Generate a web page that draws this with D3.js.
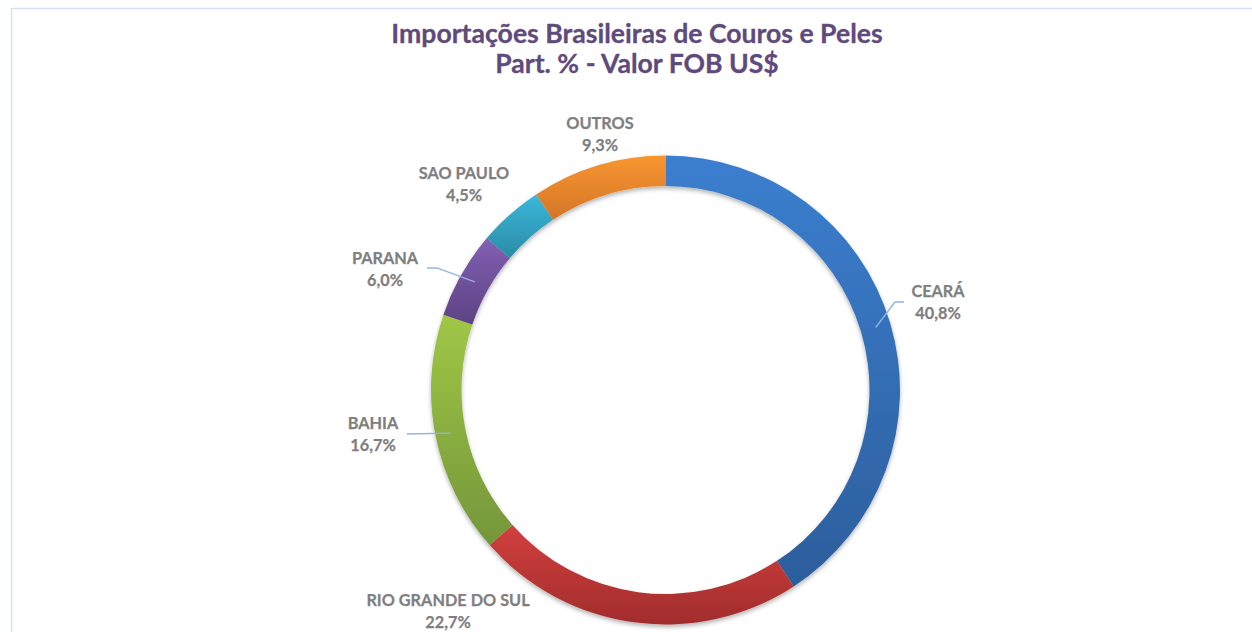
<!DOCTYPE html>
<html>
<head>
<meta charset="utf-8">
<script src="https://cdn.jsdelivr.net/npm/d3@7"></script>
<style>
  html, body { margin: 0; padding: 0; background: #fff; }
  svg { display: block; }
</style>
</head>
<body>
<svg id="drawing_region"></svg>
<script>
// data
const categories = ['CEARÁ', 'RIO GRANDE DO SUL', 'BAHIA', 'PARANA', 'SAO PAULO', 'OUTROS'];
const shares = [40.8, 22.7, 16.7, 6.0, 4.5, 9.3];
const titleLines = ['Importações Brasileiras de Couros e Peles', 'Part. % - Valor FOB US$'];

// colours (top, bottom of each slice gradient)
const colorsTop = ['#3b7fcf', '#d2403e', '#a0c746', '#8160b3', '#3bb8da', '#f8962f'];
const colorsBottom = ['#2c5e9c', '#a12c2c', '#74963a', '#5d4282', '#2a8ba6', '#d4752a'];

// label layout: centre x, first baseline y, leader elbow points (null = no leader)
const labelLayout = [
  { x: 938, y: 297, leader: [[904, 302], [895, 302]] },
  { x: 448, y: 606, leader: null },
  { x: 373, y: 429, leader: [[407, 434]] },
  { x: 385, y: 264, leader: [[427, 268], [437, 268]] },
  { x: 464, y: 179, leader: null },
  { x: 600, y: 129, leader: null }
];

const width = 1252, height = 632;
const cx = 665.5, cy = 390, outerR = 234.5, innerR = 204;

const svg = d3.select('#drawing_region')
  .attr('width', width)
  .attr('height', height);

const defs = svg.append('defs');

categories.forEach((c, i) => {
  const g = defs.append('linearGradient')
    .attr('id', 'grad' + i)
    .attr('x1', 0).attr('y1', 0).attr('x2', 0).attr('y2', 1);
  g.append('stop').attr('offset', '0%').attr('stop-color', colorsTop[i]);
  g.append('stop').attr('offset', '100%').attr('stop-color', colorsBottom[i]);
});

const shadow = defs.append('filter')
  .attr('id', 'shadow')
  .attr('x', '-10%').attr('y', '-10%').attr('width', '120%').attr('height', '120%');
shadow.append('feDropShadow')
  .attr('dx', 0).attr('dy', 2.5).attr('stdDeviation', 2)
  .attr('flood-color', '#000').attr('flood-opacity', 0.3);

// chart border
svg.append('rect')
  .attr('x', 11.5).attr('y', 8.5)
  .attr('width', width + 20).attr('height', height + 20)
  .attr('fill', 'none')
  .attr('stroke', '#d5e1f2')
  .attr('stroke-width', 1.5);

// title
svg.append('text')
  .attr('x', 637)
  .attr('text-anchor', 'middle')
  .attr('font-family', 'Lato, "Open Sans", sans-serif')
  .attr('font-weight', 'bold')
  .attr('font-size', 26.6)
  .attr('fill', '#5f4a7c')
  .attr('stroke', '#5f4a7c')
  .attr('stroke-width', 0.3)
  .selectAll('tspan')
  .data(titleLines)
  .join('tspan')
  .attr('x', 637)
  .attr('y', (d, i) => 43 + i * 30)
  .text(d => d);

const data = categories.map((c, i) => ({ label: c, value: shares[i], i }));

const pie = d3.pie()
  .value(d => d.value)
  .sort(null);

const arc = d3.arc()
  .innerRadius(innerR)
  .outerRadius(outerR);

const arcs = pie(data);

const chart = svg.append('g')
  .attr('transform', `translate(${cx}, ${cy})`);

chart.append('g')
  .attr('filter', 'url(#shadow)')
  .selectAll('path')
  .data(arcs)
  .join('path')
  .attr('d', arc)
  .attr('fill', d => `url(#grad${d.data.i})`);

// leader lines
const fmt = v => v.toFixed(1).replace('.', ',') + '%';

svg.append('g')
  .selectAll('polyline')
  .data(arcs.filter(d => labelLayout[d.data.i].leader))
  .join('polyline')
  .attr('points', d => {
    const c = arc.centroid(d);
    const pts = labelLayout[d.data.i].leader.concat([[c[0] + cx, c[1] + cy]]);
    return pts.map(p => p.join(',')).join(' ');
  })
  .attr('fill', 'none')
  .attr('stroke', '#8fb4e3')
  .attr('stroke-width', 1.3);

// labels
const labels = svg.append('g')
  .attr('font-family', 'Lato, "Open Sans", sans-serif')
  .attr('font-weight', 'bold')
  .attr('font-size', 16.3)
  .attr('fill', '#7f7f7f')
  .attr('stroke', '#7f7f7f')
  .attr('stroke-width', 0.25)
  .attr('text-anchor', 'middle')
  .selectAll('text')
  .data(arcs)
  .join('text');

labels.append('tspan')
  .attr('x', d => labelLayout[d.data.i].x)
  .attr('y', d => labelLayout[d.data.i].y)
  .text(d => d.data.label);

labels.append('tspan')
  .attr('x', d => labelLayout[d.data.i].x)
  .attr('y', d => labelLayout[d.data.i].y + 22)
  .text(d => fmt(d.data.value));
</script>
</body>
</html>
